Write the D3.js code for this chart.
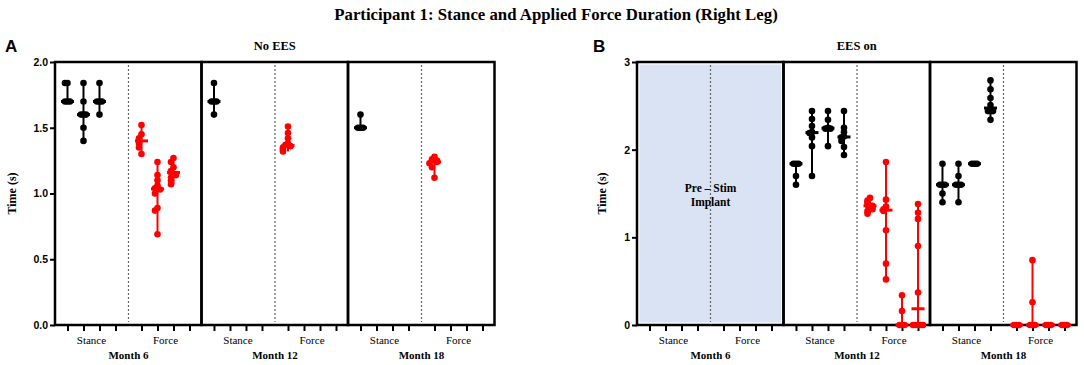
<!DOCTYPE html>
<html>
<head>
<meta charset="utf-8">
<script src="https://cdn.jsdelivr.net/npm/d3@7"></script>
<style>
  body { margin: 0; background: #fff; }
  svg { display: block; }
</style>
</head>
<body>
<div id="chart"></div>
<script>
// ---- data ----
const months = ["Month 6", "Month 12", "Month 18"];
const phaseLabels = ["Stance", "Force"];
const stanceSlots = [0, 1, 2, 3];
const forceSlots = [4.625, 5.625, 6.625, 7.625];

const yTicksA = [0, 0.5, 1.0, 1.5, 2.0];
const yTicksB = [0, 1, 2, 3];

// Panel A: No EES (one array per session, per month)
const noEesStance = [
  [[1.84, 1.84, 1.7, 1.7, 1.7], [1.84, 1.7, 1.6, 1.6, 1.6, 1.5, 1.4], [1.84, 1.7, 1.7, 1.7, 1.6]],
  [[1.84, 1.7, 1.7, 1.7, 1.6]],
  [[1.6, 1.5, 1.5, 1.5]]
];
const noEesForce = [
  [[1.52, 1.45, 1.42, 1.4, 1.38, 1.35, 1.3],
   [1.24, 1.14, 1.1, 1.06, 1.04, 1.03, 1.0, 0.89, 0.87, 0.69],
   [1.27, 1.24, 1.2, 1.17, 1.16, 1.14, 1.12, 1.1, 1.07]],
  [[1.51, 1.46, 1.42, 1.38, 1.37, 1.36, 1.35, 1.34, 1.33, 1.32]],
  [[1.28, 1.26, 1.25, 1.24, 1.23, 1.2, 1.12]]
];

// Panel B: EES on (Month 6 = pre-stim implant, no data)
const eesStance = [
  [],
  [[1.84, 1.84, 1.84, 1.7, 1.6],
   [2.44, 2.35, 2.27, 2.2, 2.19, 2.14, 2.04, 1.7],
   [2.44, 2.34, 2.25, 2.24, 2.24, 2.04],
   [2.44, 2.25, 2.2, 2.15, 2.14, 2.1, 2.03, 1.94]],
  [[1.84, 1.6, 1.6, 1.6, 1.5, 1.4],
   [1.84, 1.7, 1.6, 1.6, 1.6, 1.4],
   [1.84, 1.84, 1.84],
   [2.79, 2.69, 2.59, 2.51, 2.44, 2.44, 2.44, 2.34]]
];
const eesForce = [
  [],
  [[1.45, 1.42, 1.4, 1.37, 1.36, 1.35, 1.32, 1.3, 1.27],
   [1.86, 1.43, 1.35, 1.32, 1.3, 1.08, 0.7, 0.52],
   [0.34, 0.16, 0, 0, 0],
   [1.38, 1.28, 1.21, 0.9, 0.37, 0, 0, 0, 0, 0]],
  [[0, 0, 0],
   [0.74, 0.26, 0, 0, 0],
   [0, 0, 0],
   [0, 0, 0]]
];

// ---- layout ----
const width = 1084, height = 365;
const plotTop = 62, plotBottom = 325;
const monthW = 146.5;
const serif = "'Liberation Serif', 'Times New Roman', serif";
const sans = "'Liberation Sans', Arial, sans-serif";

const svg = d3.select("#chart").append("svg")
  .attr("width", width)
  .attr("height", height);

svg.append("text")
  .attr("x", 556).attr("y", 20)
  .attr("text-anchor", "middle")
  .style("font-family", serif).style("font-weight", "bold").style("font-size", "16.8px")
  .text("Participant 1: Stance and Applied  Force Duration (Right Leg)");

// spread dots sitting on the same value side by side
function spreadDots(vals, y) {
  const placed = [];
  const pattern = [0, -1, 1, -2, 2, -3, 3];
  return vals.slice().sort(d3.descending).map(v => {
    const py = y(v);
    const n = placed.filter(p => Math.abs(p - py) < 4).length;
    placed.push(py);
    return { v: v, py: py, off: (pattern[n] || 0) * 2.5 };
  });
}

function drawPanel(opts) {
  const g = svg.append("g");
  const y = d3.scaleLinear().domain(opts.yDomain).range([plotBottom, plotTop]);
  const left = opts.left;

  // panel letter and title
  svg.append("text")
    .attr("x", opts.letterX).attr("y", 52)
    .style("font-family", sans).style("font-weight", "bold").style("font-size", "17px")
    .text(opts.letter);
  svg.append("text")
    .attr("x", left + monthW * 1.5).attr("y", 50)
    .attr("text-anchor", "middle")
    .style("font-family", serif).style("font-weight", "bold").style("font-size", "12.5px")
    .text(opts.title);

  // y axis
  const yAxis = g.append("g")
    .attr("transform", `translate(${left},0)`)
    .call(d3.axisLeft(y).tickValues(opts.ticks).tickFormat(opts.format).tickSize(5).tickPadding(2));
  yAxis.select(".domain").remove();
  yAxis.selectAll("line").attr("stroke", "#000").attr("stroke-width", 2);
  yAxis.selectAll("text")
    .style("font-family", sans).style("font-weight", "bold").style("font-size", "10.5px").attr("fill", "#000");

  svg.append("text")
    .attr("transform", `translate(${opts.titleX},${(plotTop + plotBottom) / 2}) rotate(-90)`)
    .attr("text-anchor", "middle")
    .attr("dy", "0.35em")
    .style("font-family", serif).style("font-weight", "bold").style("font-size", "12px")
    .text("Time (s)");

  months.forEach((m, mi) => {
    const mx = left + mi * monthW;
    const x = d3.scaleLinear().domain([-0.78, 8.375]).range([mx, mx + monthW]);

    if (opts.shaded && opts.shaded[mi]) {
      g.append("rect")
        .attr("x", mx + 2.5).attr("y", plotTop + 2.5)
        .attr("width", monthW - 5).attr("height", plotBottom - plotTop - 5)
        .attr("fill", "#dae3f3");
    }

    // dotted divider between stance and force
    g.append("line")
      .attr("x1", x(3.8125)).attr("x2", x(3.8125))
      .attr("y1", plotTop + 3).attr("y2", plotBottom - 3)
      .attr("stroke", "#666").attr("stroke-width", 1.2)
      .attr("stroke-dasharray", "2,2");

    // frame
    g.append("rect")
      .attr("x", mx).attr("y", plotTop)
      .attr("width", monthW).attr("height", plotBottom - plotTop)
      .attr("fill", "none").attr("stroke", "#000").attr("stroke-width", 2.5);

    // x ticks
    const xAxis = g.append("g")
      .attr("transform", `translate(0,${plotBottom})`)
      .call(d3.axisBottom(x).tickValues(stanceSlots.concat(forceSlots)).tickFormat("").tickSize(6));
    xAxis.select(".domain").remove();
    xAxis.selectAll("line").attr("stroke", "#000").attr("stroke-width", 2);

    // x labels
    g.append("text")
      .attr("x", x(d3.mean(stanceSlots))).attr("y", 344)
      .attr("text-anchor", "middle")
      .style("font-family", serif).style("font-size", "11px")
      .text(phaseLabels[0]);
    g.append("text")
      .attr("x", x(d3.mean(forceSlots))).attr("y", 344)
      .attr("text-anchor", "middle")
      .style("font-family", serif).style("font-size", "11px")
      .text(phaseLabels[1]);
    g.append("text")
      .attr("x", x(3.8125)).attr("y", 359)
      .attr("text-anchor", "middle")
      .style("font-family", serif).style("font-weight", "bold").style("font-size", "11px")
      .text(m);

    if (opts.shaded && opts.shaded[mi]) {
      const t = g.append("text")
        .attr("x", x(3.8125)).attr("y", 192)
        .attr("text-anchor", "middle")
        .style("font-family", serif).style("font-weight", "bold").style("font-size", "11.5px");
      t.append("tspan").attr("x", x(3.8125)).text("Pre – Stim");
      t.append("tspan").attr("x", x(3.8125)).attr("dy", 14).text("Implant");
    }

    // sessions
    [[opts.stance[mi] || [], stanceSlots, "#000"], [opts.force[mi] || [], forceSlots, "#ff0000"]]
      .forEach(([sessions, slots, color]) => {
        sessions.forEach((vals, si) => {
          const cx = x(slots[si]);
          const sg = g.append("g");
          sg.append("line")
            .attr("x1", cx).attr("x2", cx)
            .attr("y1", y(d3.max(vals))).attr("y2", y(d3.min(vals)))
            .attr("stroke", color).attr("stroke-width", 2);
          sg.selectAll("circle")
            .data(spreadDots(vals, y))
            .join("circle")
            .attr("cx", d => cx + d.off)
            .attr("cy", d => d.py)
            .attr("r", 3.3)
            .attr("fill", color);
          const med = y(d3.median(vals));
          sg.append("line")
            .attr("x1", cx - 6.5).attr("x2", cx + 6.5)
            .attr("y1", med).attr("y2", med)
            .attr("stroke", color).attr("stroke-width", 3);
        });
      });
  });
}

drawPanel({
  left: 55, letter: "A", letterX: 5, titleX: 12, title: "No EES",
  yDomain: [0, 2], ticks: yTicksA, format: d3.format(".1f"),
  stance: noEesStance, force: noEesForce
});

drawPanel({
  left: 637, letter: "B", letterX: 593, titleX: 602, title: "EES on",
  yDomain: [0, 3], ticks: yTicksB, format: d3.format("d"),
  stance: eesStance, force: eesForce, shaded: [true, false, false]
});
</script>
</body>
</html>
